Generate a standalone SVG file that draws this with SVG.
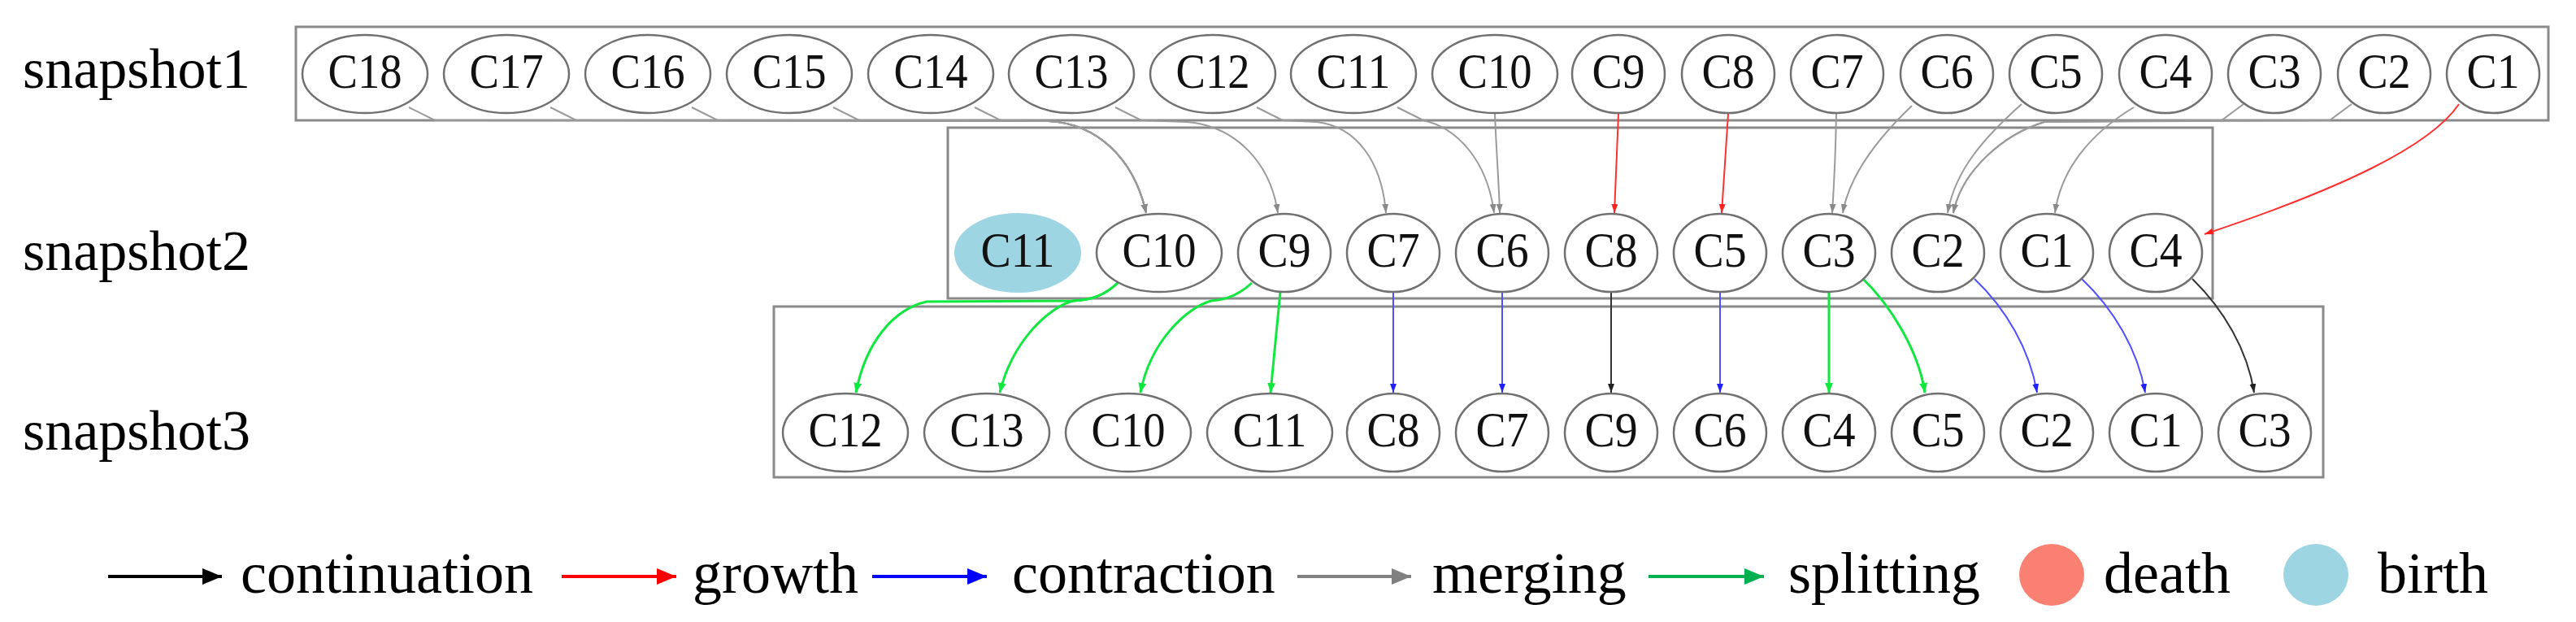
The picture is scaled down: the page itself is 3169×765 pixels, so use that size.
<svg xmlns="http://www.w3.org/2000/svg" width="3169" height="765" viewBox="0 0 3169 765">
<style>
.bg{fill:#ffffff}
.box{fill:none;stroke:#8a8a8a;stroke-width:3}
.nd{fill:#ffffff;stroke:#707070;stroke-width:2.5}
.birth{fill:#9dd5e3;stroke:#9dd5e3;stroke-width:2}
.nt{font-family:"Liberation Serif","Times New Roman",serif;font-size:62px;fill:#111;text-anchor:middle}
.lbl{font-family:"Liberation Serif","Times New Roman",serif;font-size:70px;fill:#000}
.lg{font-family:"Liberation Serif","Times New Roman",serif;font-size:72px;fill:#000}
.e{fill:none;stroke-width:2}
.mg{stroke:#9a9a9a}
.gr{stroke:#ff3030}
.ct{stroke:#5050ff}
.cn{stroke:#333333}
.sp{stroke:#10e840;stroke-width:3}
.la{fill:none;stroke-width:4}
</style>
<defs>
<marker id="aMg" markerUnits="userSpaceOnUse" markerWidth="12" markerHeight="10" refX="11" refY="4" orient="auto"><path d="M0,0 L11,4 L0,8 z" fill="#8a8a8a"/></marker>
<marker id="aGr" markerUnits="userSpaceOnUse" markerWidth="12" markerHeight="10" refX="11" refY="4" orient="auto"><path d="M0,0 L11,4 L0,8 z" fill="#ff2020"/></marker>
<marker id="aCt" markerUnits="userSpaceOnUse" markerWidth="12" markerHeight="10" refX="11" refY="4" orient="auto"><path d="M0,0 L11,4 L0,8 z" fill="#2020ff"/></marker>
<marker id="aCn" markerUnits="userSpaceOnUse" markerWidth="12" markerHeight="10" refX="11" refY="4" orient="auto"><path d="M0,0 L11,4 L0,8 z" fill="#222222"/></marker>
<marker id="aSp" markerUnits="userSpaceOnUse" markerWidth="14" markerHeight="12" refX="12" refY="5" orient="auto"><path d="M0,0 L12,5 L0,10 z" fill="#10e840"/></marker>
<marker id="lA" markerUnits="userSpaceOnUse" markerWidth="26" markerHeight="22" refX="24" refY="10" orient="auto"><path d="M0,0 L24,10 L0,20 z" fill="context-stroke"/></marker>
</defs>
<rect class="bg" x="0" y="0" width="3169" height="765"/>

<g id="labels">
<text class="lbl" x="28" y="108">snapshot1</text>
<text class="lbl" x="28" y="332">snapshot2</text>
<text class="lbl" x="28" y="553">snapshot3</text>
</g>

<g id="clusters">
<rect id="snapshot1" class="box" x="364" y="33" width="2771" height="115"/>
<rect id="snapshot2" class="box" x="1166" y="157" width="1556" height="210"/>
<rect id="snapshot3" class="box" x="952" y="377" width="1906" height="210"/>
</g>

<g id="connectors">
<!-- snapshot1 -> snapshot2 merging -->
<path class="e mg" d="M503,132 L535,148 L1290,149 C1350,152 1395,195 1410,262" marker-end="url(#aMg)"/>
<path class="e mg" d="M677,132 L709,148 L1290,149 C1350,152 1395,195 1410,262" marker-end="url(#aMg)"/>
<path class="e mg" d="M851,132 L883,148 L1290,149 C1350,152 1395,195 1410,262" marker-end="url(#aMg)"/>
<path class="e mg" d="M1025,132 L1057,148 L1290,149 C1350,152 1395,195 1410,262" marker-end="url(#aMg)"/>
<path class="e mg" d="M1199,132 L1231,148 L1290,149 C1350,152 1395,195 1410,262" marker-end="url(#aMg)"/>
<path class="e mg" d="M1372,132 L1404,148 L1460,150 C1520,155 1563,200 1572,262" marker-end="url(#aMg)"/>
<path class="e mg" d="M1546,132 L1578,148 L1620,150 C1670,156 1700,200 1705,262" marker-end="url(#aMg)"/>
<path class="e mg" d="M1719,132 L1751,148 C1795,158 1830,200 1838,262" marker-end="url(#aMg)"/>
<path class="e mg" d="M1839,140 C1841,190 1844,225 1845,262" marker-end="url(#aMg)"/>
<path class="e gr" d="M1991,140 L1986,262" marker-end="url(#aGr)"/>
<path class="e gr" d="M2126,140 L2118,262" marker-end="url(#aGr)"/>
<path class="e mg" d="M2259,140 C2258,200 2256,230 2254,262" marker-end="url(#aMg)"/>
<path class="e mg" d="M2352,130 C2305,175 2274,220 2267,262" marker-end="url(#aMg)"/>
<path class="e mg" d="M2487,128 C2440,170 2405,210 2396,262" marker-end="url(#aMg)"/>
<path class="e mg" d="M2760,128 L2733,148 L2515,150 C2465,165 2413,210 2403,262" marker-end="url(#aMg)"/>
<path class="e mg" d="M2893,128 L2866,148 L2515,150 C2465,165 2413,210 2403,262" marker-end="url(#aMg)"/>
<path class="e mg" d="M2625,132 C2570,165 2535,210 2528,262" marker-end="url(#aMg)"/>
<path class="e gr" d="M3025,128 C2990,180 2880,232 2712,288" marker-end="url(#aGr)"/>
<!-- snapshot2 -> snapshot3 -->
<path class="e sp" d="M1375,348 C1360,362 1345,369 1320,370 L1140,371 C1100,380 1065,420 1053,483" marker-end="url(#aSp)"/>
<path class="e sp" d="M1375,348 C1360,362 1345,369 1320,370 C1290,378 1245,420 1230,483" marker-end="url(#aSp)"/>
<path class="e sp" d="M1540,348 C1525,362 1510,369 1490,370 C1460,378 1415,420 1403,483" marker-end="url(#aSp)"/>
<path class="e sp" d="M1575,359 L1563,483" marker-end="url(#aSp)"/>
<path class="e ct" d="M1714,359 L1714,483" marker-end="url(#aCt)"/>
<path class="e ct" d="M1848,359 L1848,483" marker-end="url(#aCt)"/>
<path class="e cn" d="M1982,359 L1982,483" marker-end="url(#aCn)"/>
<path class="e ct" d="M2116,359 L2116,483" marker-end="url(#aCt)"/>
<path class="e sp" d="M2250,359 L2250,483" marker-end="url(#aSp)"/>
<path class="e sp" d="M2291,342 C2325,375 2360,430 2368,483" marker-end="url(#aSp)"/>
<path class="e ct" d="M2429,343 C2468,380 2497,430 2506,483" marker-end="url(#aCt)"/>
<path class="e ct" d="M2561,343 C2600,380 2630,430 2639,483" marker-end="url(#aCt)"/>
<path class="e cn" d="M2697,343 C2735,380 2765,430 2773,483" marker-end="url(#aCn)"/>
</g>

<g id="nodes-s1">
<g id="s1-C18"><ellipse class="nd" cx="449" cy="91" rx="77" ry="48"/><text class="nt" x="449" y="108" textLength="91" lengthAdjust="spacingAndGlyphs">C18</text></g>
<g id="s1-C17"><ellipse class="nd" cx="623" cy="91" rx="77" ry="48"/><text class="nt" x="623" y="108" textLength="91" lengthAdjust="spacingAndGlyphs">C17</text></g>
<g id="s1-C16"><ellipse class="nd" cx="797" cy="91" rx="77" ry="48"/><text class="nt" x="797" y="108" textLength="91" lengthAdjust="spacingAndGlyphs">C16</text></g>
<g id="s1-C15"><ellipse class="nd" cx="971" cy="91" rx="77" ry="48"/><text class="nt" x="971" y="108" textLength="91" lengthAdjust="spacingAndGlyphs">C15</text></g>
<g id="s1-C14"><ellipse class="nd" cx="1145" cy="91" rx="77" ry="48"/><text class="nt" x="1145" y="108" textLength="91" lengthAdjust="spacingAndGlyphs">C14</text></g>
<g id="s1-C13"><ellipse class="nd" cx="1318" cy="91" rx="77" ry="48"/><text class="nt" x="1318" y="108" textLength="91" lengthAdjust="spacingAndGlyphs">C13</text></g>
<g id="s1-C12"><ellipse class="nd" cx="1492" cy="91" rx="77" ry="48"/><text class="nt" x="1492" y="108" textLength="91" lengthAdjust="spacingAndGlyphs">C12</text></g>
<g id="s1-C11"><ellipse class="nd" cx="1665" cy="91" rx="77" ry="48"/><text class="nt" x="1665" y="108" textLength="91" lengthAdjust="spacingAndGlyphs">C11</text></g>
<g id="s1-C10"><ellipse class="nd" cx="1839" cy="91" rx="77" ry="48"/><text class="nt" x="1839" y="108" textLength="91" lengthAdjust="spacingAndGlyphs">C10</text></g>
<g id="s1-C9"><ellipse class="nd" cx="1991" cy="91" rx="57" ry="48"/><text class="nt" x="1991" y="108" textLength="65" lengthAdjust="spacingAndGlyphs">C9</text></g>
<g id="s1-C8"><ellipse class="nd" cx="2126" cy="91" rx="57" ry="48"/><text class="nt" x="2126" y="108" textLength="65" lengthAdjust="spacingAndGlyphs">C8</text></g>
<g id="s1-C7"><ellipse class="nd" cx="2260" cy="91" rx="57" ry="48"/><text class="nt" x="2260" y="108" textLength="65" lengthAdjust="spacingAndGlyphs">C7</text></g>
<g id="s1-C6"><ellipse class="nd" cx="2395" cy="91" rx="57" ry="48"/><text class="nt" x="2395" y="108" textLength="65" lengthAdjust="spacingAndGlyphs">C6</text></g>
<g id="s1-C5"><ellipse class="nd" cx="2529" cy="91" rx="57" ry="48"/><text class="nt" x="2529" y="108" textLength="65" lengthAdjust="spacingAndGlyphs">C5</text></g>
<g id="s1-C4"><ellipse class="nd" cx="2664" cy="91" rx="57" ry="48"/><text class="nt" x="2664" y="108" textLength="65" lengthAdjust="spacingAndGlyphs">C4</text></g>
<g id="s1-C3"><ellipse class="nd" cx="2798" cy="91" rx="57" ry="48"/><text class="nt" x="2798" y="108" textLength="65" lengthAdjust="spacingAndGlyphs">C3</text></g>
<g id="s1-C2"><ellipse class="nd" cx="2933" cy="91" rx="57" ry="48"/><text class="nt" x="2933" y="108" textLength="65" lengthAdjust="spacingAndGlyphs">C2</text></g>
<g id="s1-C1"><ellipse class="nd" cx="3067" cy="91" rx="57" ry="48"/><text class="nt" x="3067" y="108" textLength="65" lengthAdjust="spacingAndGlyphs">C1</text></g>
</g>

<g id="nodes-s2">
<g id="s2-C11"><ellipse class="birth" cx="1252" cy="311" rx="77" ry="48"/><text class="nt" x="1252" y="328" textLength="91" lengthAdjust="spacingAndGlyphs">C11</text></g>
<g id="s2-C10"><ellipse class="nd" cx="1426" cy="311" rx="77" ry="48"/><text class="nt" x="1426" y="328" textLength="91" lengthAdjust="spacingAndGlyphs">C10</text></g>
<g id="s2-C9"><ellipse class="nd" cx="1580" cy="311" rx="57" ry="48"/><text class="nt" x="1580" y="328" textLength="65" lengthAdjust="spacingAndGlyphs">C9</text></g>
<g id="s2-C7"><ellipse class="nd" cx="1714" cy="311" rx="57" ry="48"/><text class="nt" x="1714" y="328" textLength="65" lengthAdjust="spacingAndGlyphs">C7</text></g>
<g id="s2-C6"><ellipse class="nd" cx="1848" cy="311" rx="57" ry="48"/><text class="nt" x="1848" y="328" textLength="65" lengthAdjust="spacingAndGlyphs">C6</text></g>
<g id="s2-C8"><ellipse class="nd" cx="1982" cy="311" rx="57" ry="48"/><text class="nt" x="1982" y="328" textLength="65" lengthAdjust="spacingAndGlyphs">C8</text></g>
<g id="s2-C5"><ellipse class="nd" cx="2116" cy="311" rx="57" ry="48"/><text class="nt" x="2116" y="328" textLength="65" lengthAdjust="spacingAndGlyphs">C5</text></g>
<g id="s2-C3"><ellipse class="nd" cx="2250" cy="311" rx="57" ry="48"/><text class="nt" x="2250" y="328" textLength="65" lengthAdjust="spacingAndGlyphs">C3</text></g>
<g id="s2-C2"><ellipse class="nd" cx="2384" cy="311" rx="57" ry="48"/><text class="nt" x="2384" y="328" textLength="65" lengthAdjust="spacingAndGlyphs">C2</text></g>
<g id="s2-C1"><ellipse class="nd" cx="2518" cy="311" rx="57" ry="48"/><text class="nt" x="2518" y="328" textLength="65" lengthAdjust="spacingAndGlyphs">C1</text></g>
<g id="s2-C4"><ellipse class="nd" cx="2652" cy="311" rx="57" ry="48"/><text class="nt" x="2652" y="328" textLength="65" lengthAdjust="spacingAndGlyphs">C4</text></g>
</g>

<g id="nodes-s3">
<g id="s3-C12"><ellipse class="nd" cx="1040" cy="532" rx="77" ry="48"/><text class="nt" x="1040" y="549" textLength="91" lengthAdjust="spacingAndGlyphs">C12</text></g>
<g id="s3-C13"><ellipse class="nd" cx="1214" cy="532" rx="77" ry="48"/><text class="nt" x="1214" y="549" textLength="91" lengthAdjust="spacingAndGlyphs">C13</text></g>
<g id="s3-C10"><ellipse class="nd" cx="1388" cy="532" rx="77" ry="48"/><text class="nt" x="1388" y="549" textLength="91" lengthAdjust="spacingAndGlyphs">C10</text></g>
<g id="s3-C11"><ellipse class="nd" cx="1562" cy="532" rx="77" ry="48"/><text class="nt" x="1562" y="549" textLength="91" lengthAdjust="spacingAndGlyphs">C11</text></g>
<g id="s3-C8"><ellipse class="nd" cx="1714" cy="532" rx="57" ry="48"/><text class="nt" x="1714" y="549" textLength="65" lengthAdjust="spacingAndGlyphs">C8</text></g>
<g id="s3-C7"><ellipse class="nd" cx="1848" cy="532" rx="57" ry="48"/><text class="nt" x="1848" y="549" textLength="65" lengthAdjust="spacingAndGlyphs">C7</text></g>
<g id="s3-C9"><ellipse class="nd" cx="1982" cy="532" rx="57" ry="48"/><text class="nt" x="1982" y="549" textLength="65" lengthAdjust="spacingAndGlyphs">C9</text></g>
<g id="s3-C6"><ellipse class="nd" cx="2116" cy="532" rx="57" ry="48"/><text class="nt" x="2116" y="549" textLength="65" lengthAdjust="spacingAndGlyphs">C6</text></g>
<g id="s3-C4"><ellipse class="nd" cx="2250" cy="532" rx="57" ry="48"/><text class="nt" x="2250" y="549" textLength="65" lengthAdjust="spacingAndGlyphs">C4</text></g>
<g id="s3-C5"><ellipse class="nd" cx="2384" cy="532" rx="57" ry="48"/><text class="nt" x="2384" y="549" textLength="65" lengthAdjust="spacingAndGlyphs">C5</text></g>
<g id="s3-C2"><ellipse class="nd" cx="2518" cy="532" rx="57" ry="48"/><text class="nt" x="2518" y="549" textLength="65" lengthAdjust="spacingAndGlyphs">C2</text></g>
<g id="s3-C1"><ellipse class="nd" cx="2652" cy="532" rx="57" ry="48"/><text class="nt" x="2652" y="549" textLength="65" lengthAdjust="spacingAndGlyphs">C1</text></g>
<g id="s3-C3"><ellipse class="nd" cx="2786" cy="532" rx="57" ry="48"/><text class="nt" x="2786" y="549" textLength="65" lengthAdjust="spacingAndGlyphs">C3</text></g>
</g>

<g id="legend">
<g id="lg-continuation"><path class="la" d="M133,709 L273,709" stroke="#000000" marker-end="url(#lA)"/><text class="lg" x="296" y="729">continuation</text></g>
<g id="lg-growth"><path class="la" d="M691,709 L832,709" stroke="#ff0000" marker-end="url(#lA)"/><text class="lg" x="852" y="729">growth</text></g>
<g id="lg-contraction"><path class="la" d="M1073,709 L1214,709" stroke="#0000ff" marker-end="url(#lA)"/><text class="lg" x="1245" y="729">contraction</text></g>
<g id="lg-merging"><path class="la" d="M1596,709 L1736,709" stroke="#808080" marker-end="url(#lA)"/><text class="lg" x="1762" y="729">merging</text></g>
<g id="lg-splitting"><path class="la" d="M2028,709 L2170,709" stroke="#00b050" marker-end="url(#lA)"/><text class="lg" x="2200" y="729">splitting</text></g>
<g id="lg-death"><ellipse cx="2524" cy="707" rx="40" ry="38" fill="#fa8072"/><text class="lg" x="2588" y="729">death</text></g>
<g id="lg-birth"><ellipse cx="2849" cy="707" rx="40" ry="38" fill="#9dd5e3"/><text class="lg" x="2925" y="729">birth</text></g>
</g>
</svg>
